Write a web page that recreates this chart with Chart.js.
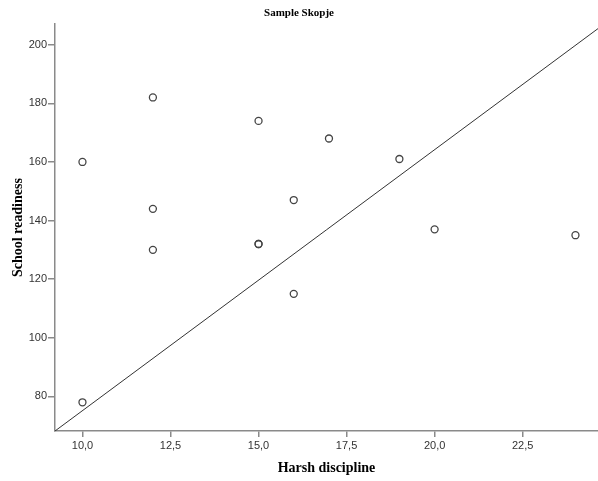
<!DOCTYPE html>
<html>
<head>
<meta charset="utf-8">
<script src="https://cdn.jsdelivr.net/npm/chart.js@4/dist/chart.umd.min.js"></script>
<style>
html,body{margin:0;padding:0;background:#fff;overflow:hidden;}
#wrap{width:598px;height:481px;position:relative;}
</style>
</head>
<body>
<div id="wrap"><canvas id="c" width="598" height="481"></canvas></div>
<script>
// Data
const harshDiscipline = [10, 10, 12, 12, 12, 15, 15, 15, 16, 16, 17, 19, 20, 24];
const schoolReadiness = [160, 78, 182, 144, 130, 174, 132, 132, 147, 115, 168, 161, 137, 135];
const lineX = [9.22, 24.64];
const lineY = [68.2, 205.5];
const xTicks = [10, 12.5, 15, 17.5, 20, 22.5];
const yTicks = [80, 100, 120, 140, 160, 180, 200];
const xRange = [9.22, 24.64];
const yRange = [68.2, 207];

const points = harshDiscipline.map((x, i) => ({x: x, y: schoolReadiness[i]}));
const linePts = lineX.map((x, i) => ({x: x, y: lineY[i]}));

const axisColor = '#8a8a8a';
const tickFont = {family: 'Liberation Sans, Arial, sans-serif', size: 11};
const titleFont = {family: 'Liberation Serif, Times New Roman, serif', size: 14, weight: 'bold'};

new Chart(document.getElementById('c'), {
  type: 'scatter',
  data: {
    datasets: [
      {
        data: points,
        pointRadius: 3.5,
        pointHoverRadius: 3.5,
        pointBackgroundColor: 'rgba(255,255,255,0)',
        pointBorderColor: '#444',
        pointBorderWidth: 1.3,
        showLine: false
      },
      {
        type: 'line',
        data: linePts,
        borderColor: '#333',
        borderWidth: 1,
        pointRadius: 0,
        fill: false,
        tension: 0
      }
    ]
  },
  options: {
    responsive: false,
    animation: false,
    layout: {padding: 0, autoPadding: false},
    plugins: {
      legend: {display: false},
      tooltip: {enabled: false},
      title: {
        display: true,
        text: 'Sample Skopje',
        color: '#000',
        font: {family: 'Liberation Serif, Times New Roman, serif', size: 11, weight: 'bold'},
        padding: {top: 7, bottom: 4}
      }
    },
    scales: {
      x: {
        type: 'linear',
        min: xRange[0],
        max: xRange[1],
        afterBuildTicks: s => { s.ticks = xTicks.map(v => ({value: v})); },
        afterFit: s => { s.height = 50; s.paddingLeft = 0; s.paddingRight = 0; },
        grid: {display: true, drawOnChartArea: false, drawTicks: true, tickLength: 6, color: axisColor, lineWidth: 1.5},
        border: {display: true, color: axisColor, width: 1.5},
        ticks: {
          color: '#333',
          font: tickFont,
          padding: 2,
          maxRotation: 0,
          autoSkip: false,
          callback: v => v.toFixed(1).replace('.', ',')
        },
        title: {display: true, text: 'Harsh discipline', color: '#000', font: titleFont, padding: {top: 4, bottom: 4}}
      },
      y: {
        type: 'linear',
        min: yRange[0],
        max: yRange[1],
        afterBuildTicks: s => { s.ticks = yTicks.map(v => ({value: v})); },
        afterFit: s => { s.width = 55; s.paddingTop = 0; s.paddingBottom = 0; },
        grid: {display: true, drawOnChartArea: false, drawTicks: true, tickLength: 7, color: axisColor, lineWidth: 1.5},
        border: {display: true, color: axisColor, width: 1.5},
        ticks: {
          color: '#333',
          font: tickFont,
          padding: 1,
          autoSkip: false,
          callback: v => String(v)
        },
        title: {display: true, text: 'School readiness', color: '#000', font: titleFont, padding: {top: 10, bottom: 0}}
      }
    }
  }
});
</script>
</body>
</html>
